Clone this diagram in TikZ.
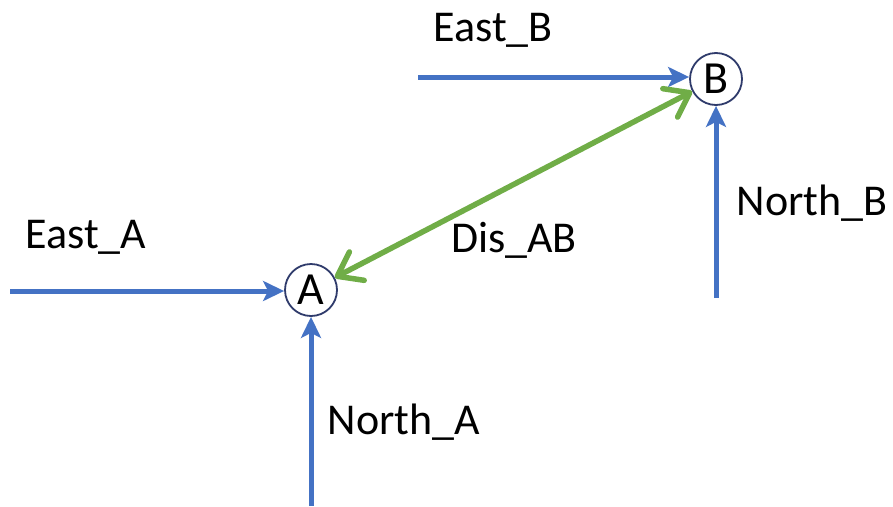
\documentclass[tikz,border=0pt]{standalone}
\usepackage{fontspec}
\setmainfont{Carlito}
\usetikzlibrary{arrows.meta}
\definecolor{bluec}{HTML}{4472C4}
\definecolor{greenc}{HTML}{70AD47}
\definecolor{navy}{HTML}{2F3B6B}
\begin{document}
\begin{tikzpicture}[x=1pt,y=-1pt,
  pt/.style={circle,draw=navy,line width=1.8pt,fill=white,inner sep=0pt,minimum size=52pt,font=\fontsize{46}{50}\selectfont},
  lbl/.style={font=\fontsize{44}{50}\selectfont,inner sep=0pt},
  bar/.style={draw=bluec,line width=5pt,-{Stealth[length=21pt,width=20pt,inset=5pt]}},
  dis/.style={draw=greenc,line width=5.5pt,{Straight Barb[length=22pt,width=32pt,line cap=round,line join=round]}-{Straight Barb[length=22pt,width=32pt,line cap=round,line join=round]}}]
\useasboundingbox (0,0) rectangle (893,506);
\node[pt] (A) at (311,290) {A};
\node[pt] (B) at (716,79) {B};
\coordinate (eA) at (10,291);
\coordinate (nA) at (311,506);
\coordinate (eB) at (418,77);
\coordinate (nB) at (716,298);
\draw[bar] (eA) -- (eA -| A.west);
\draw[bar] (nA) -- (A.south);
\draw[bar] (eB) -- (eB -| B.west);
\draw[bar] (nB) -- (B.south);
\draw[dis] (A) -- (B);
\node[lbl] (lEA) at (86,237) {East\_A};
\node[lbl] (lEB) at (493,30) {East\_B};
\node[lbl] (lNB) at (812,203) {North\_B};
\node[lbl] (lNA) at (404,422) {North\_A};
\node[lbl] (lD) at (514,240) {Dis\_AB};
\end{tikzpicture}
\end{document}
